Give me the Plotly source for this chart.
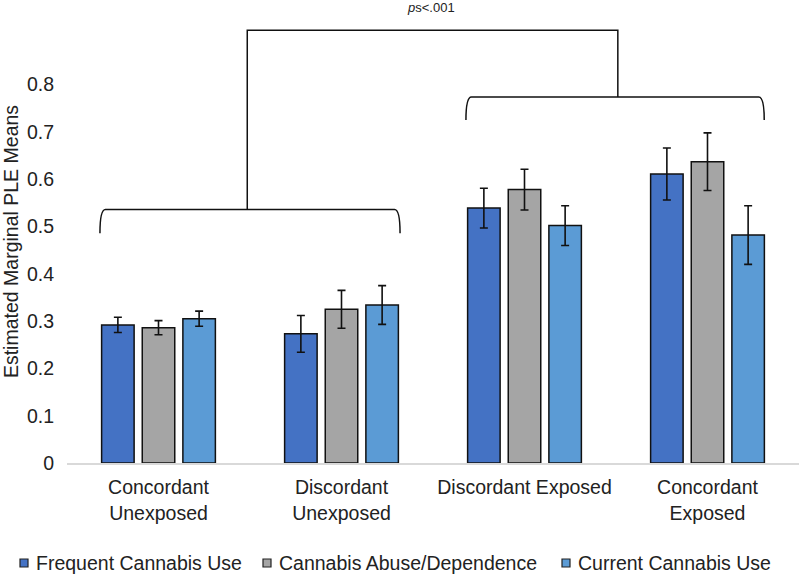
import plotly.graph_objects as go

categories = ["Concordant<br>Unexposed", "Discordant<br>Unexposed", "Discordant Exposed", "Concordant<br>Exposed"]
series_names = ["Frequent Cannabis Use", "Cannabis Abuse/Dependence", "Current Cannabis Use"]
frequent = [0.292, 0.273, 0.539, 0.611]
frequent_err = [0.016, 0.039, 0.042, 0.055]
abuse = [0.286, 0.325, 0.578, 0.637]
abuse_err = [0.015, 0.040, 0.043, 0.061]
current = [0.305, 0.334, 0.502, 0.482]
current_err = [0.016, 0.041, 0.042, 0.062]
colors = ["#4472C4", "#A5A5A5", "#5B9BD5"]
y_ticks = [0, 0.1, 0.2, 0.3, 0.4, 0.5, 0.6, 0.7, 0.8]
y_tick_labels = ["0", "0.1", "0.2", "0.3", "0.4", "0.5", "0.6", "0.7", "0.8"]

FONT = "Liberation Sans, Arial, sans-serif"
W, H = 800, 575
ML, MR, MT, MB = 67, 1, 20, 112
PW, PH = W - ML - MR, H - MT - MB
xs = list(range(len(categories)))


def px_x(p):
    return (p - ML) / PW


def px_y(p):
    return (H - MB - p) / PH


fig = go.Figure()
for name, vals, errs, col in zip(series_names, [frequent, abuse, current],
                                 [frequent_err, abuse_err, current_err], colors):
    fig.add_trace(go.Bar(
        x=xs, y=vals, name=name, showlegend=False,
        marker=dict(color=col, line=dict(color="#111111", width=1.5)),
        error_y=dict(type="data", array=errs, visible=True, color="#111111",
                     thickness=1.6, width=4),
    ))


# significance brackets
def bracket(x0, x1, ytop, ybot, d=0.03):
    return (f"M {x0},{ybot} Q {x0},{ytop} {x0 + d},{ytop} "
            f"L {x1 - d},{ytop} Q {x1},{ytop} {x1},{ybot}")


line = dict(color="#111111", width=1.5)
fig.add_shape(type="path", path=bracket(-0.32, 1.32, 0.536, 0.486), line=line, xref="x", yref="y")
fig.add_shape(type="path", path=bracket(1.68, 3.31, 0.774, 0.725), line=line, xref="x", yref="y")
fig.add_shape(type="path", path="M 0.485,0.536 L 0.485,0.915 L 2.51,0.915 L 2.51,0.774",
              line=line, xref="x", yref="y")

fig.add_annotation(text="<i>p</i>s<.001", x=1.49, y=px_y(8), xref="x", yref="paper",
                   yanchor="middle", showarrow=False,
                   font=dict(size=13, color="#222222", family=FONT))

# legend (drawn manually to keep it on one row like the original)
legend_square_x = [20, 263, 562]
legend_text_x = [34, 277, 576]
for name, col, sx, tx in zip(series_names, colors, legend_square_x, legend_text_x):
    fig.add_shape(type="rect", xref="paper", yref="paper",
                  x0=px_x(sx), x1=px_x(sx + 8), y0=px_y(567), y1=px_y(559),
                  fillcolor=col, line=dict(color="#222222", width=1.2))
    fig.add_annotation(text=name, xref="paper", yref="paper", x=px_x(tx), y=px_y(563),
                       xanchor="left", yanchor="middle", showarrow=False,
                       font=dict(size=19.5, color="#222222", family=FONT))

fig.update_layout(
    width=W, height=H,
    paper_bgcolor="white", plot_bgcolor="white",
    margin=dict(l=ML, r=MR, t=MT, b=MB),
    barmode="group", bargap=0.334, bargroupgap=0.2,
    font=dict(family=FONT, size=19, color="#222222"),
    showlegend=False,
    xaxis=dict(range=[-0.5, 3.5], tickvals=xs, ticktext=categories, showgrid=False,
               zeroline=False, showline=True, linecolor="#D9D9D9", linewidth=1.5,
               ticks="", ticklabelstandoff=6, tickfont=dict(size=19.5, color="#222222")),
    yaxis=dict(range=[0, 0.9366], tickvals=y_ticks, ticktext=y_tick_labels, showgrid=False,
               zeroline=False, showline=False, ticks="", ticklabelstandoff=12,
               tickfont=dict(size=19.5, color="#222222"),
               title=dict(text="Estimated Marginal PLE Means", standoff=4,
                          font=dict(size=19.5, color="#222222"))),
)

fig.write_html("out.html", config={"displayModeBar": False},
               post_script="document.body.style.margin='0';")
